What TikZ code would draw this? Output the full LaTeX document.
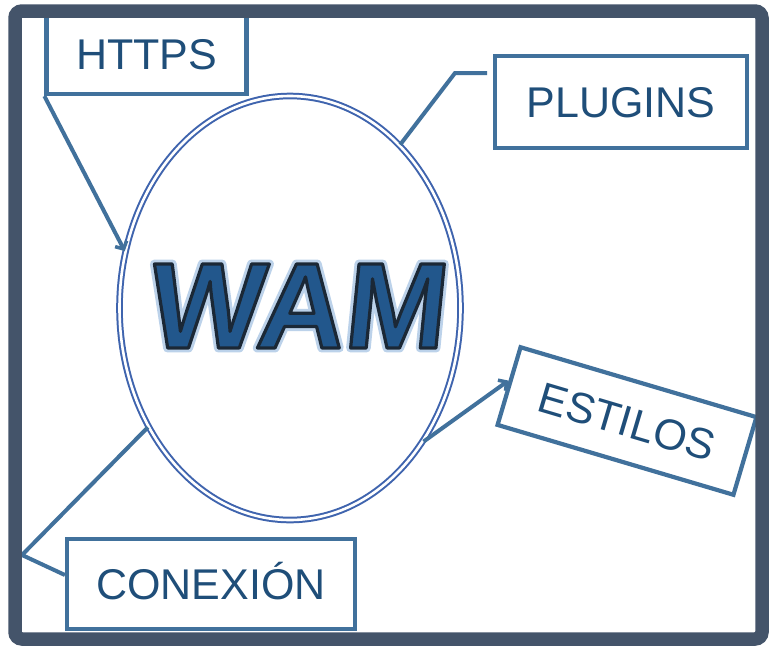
\documentclass[tikz,border=0pt]{standalone}
\usepackage{fontspec}
\setmainfont{Liberation Sans}
\newfontfamily\wamfont[FakeSlant=0.1]{Liberation Sans}
\usetikzlibrary{shapes.geometric,arrows.meta,calc}
\definecolor{framecol}{HTML}{44546A}
\definecolor{boxcol}{HTML}{41719C}
\definecolor{txtcol}{HTML}{1F4E79}
\definecolor{ellcol}{HTML}{3F64AE}
\definecolor{wamfill}{HTML}{22578C}
\definecolor{wamglow}{HTML}{BCD2EA}
\newcommand{\glowtext}[1]{\special{pdf:code 1 Tr 9 w 1 j 0.737 0.824 0.918 RG}#1\special{pdf:code 0 Tr}}
\newcommand{\outlinetext}[1]{\special{pdf:code 2 Tr 3.2 w 1 j 0.106 0.157 0.212 RG}#1\special{pdf:code 0 Tr}}
\tikzset{
  labelbox/.style={draw=boxcol, line width=4.2pt, rectangle, text=txtcol,
    font=\fontsize{43}{43}\selectfont, text height=31pt, text depth=0pt, inner sep=0pt},
  conn/.style={draw=boxcol, line width=4pt},
  arrowconn/.style={conn, -{Straight Barb[length=6pt,width=13pt,line width=3.5pt]}},
  bigell/.style={ellipse, draw=ellcol, line width=2pt, double=white, double distance=2.6pt,
    minimum width=341pt, minimum height=424pt, inner sep=0pt},
  wamstyle/.style={inner sep=0pt, font=\wamfont\bfseries\fontsize{122}{122}\selectfont},
  frameline/.style={draw=framecol, line width=13.5pt, rounded corners=7pt}
}
\begin{document}
\begin{tikzpicture}[x=1pt,y=-1pt]
\useasboundingbox (0,0) rectangle (769,648);
\fill[white] (0,0) rectangle (769,648);
% central ellipse
\node[bigell] (ell) at (290,308) {};
% WAM text: glow, then outlined fill
\node[wamstyle, text=wamglow] (wamglow) at (295,306) {\glowtext{WAM}};
\node[wamstyle, text=wamfill] (wam) at (295,306) {\outlinetext{WAM}};
% label boxes
\node[labelbox, minimum width=200pt, minimum height=80pt] (https) at (146.5,54) {HTTPS};
\node[labelbox, minimum width=252pt, minimum height=92pt] (plugins) at (621,102) {PLUGINS};
\node[labelbox, minimum width=246pt, minimum height=81pt, rotate=-16.5] (estilos) at (627,421) {ESTILOS};
\node[labelbox, minimum width=288pt, minimum height=90pt] (conexion) at (211,584) {CONEXIÓN};
% connectors
\coordinate (pl0) at (455,73);
\coordinate (pl1) at (487,73);
\coordinate (cx0) at (22,555);
\draw[arrowconn] (https.south west) -- (ell.161);
\draw[conn] (ell.56) -- (pl0) -- (pl1);
\draw[arrowconn] (ell.-45) -- ($(estilos.west)!0.12!(estilos.north west)$);
\draw[conn] (ell.220) -- (cx0) -- ($(conexion.west)+(0,-9)$);
% outer frame
\draw[frameline] (15,11) rectangle (762,639);
\end{tikzpicture}
\end{document}
